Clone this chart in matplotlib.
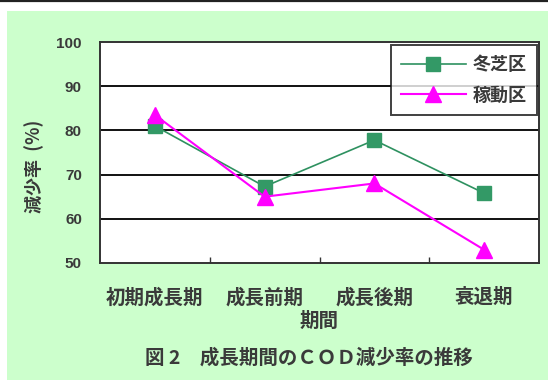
import matplotlib
matplotlib.use("Agg")
import matplotlib.pyplot as plt
from matplotlib.patches import Rectangle
from matplotlib.lines import Line2D

plt.rcParams['font.family'] = ['Noto Sans CJK JP', 'DejaVu Sans']

# Data
periods = ['初期成長期', '成長前期', '成長後期', '衰退期']
turf_area = [81.0, 67.3, 77.8, 65.8]      # 冬芝区
active_area = [83.5, 65.0, 68.0, 53.0]    # 稼動区
series_names = ['冬芝区', '稼動区']
y_ticks = [50, 60, 70, 80, 90, 100]

W, H = 548, 380
fig = plt.figure(figsize=(W / 100, H / 100), dpi=100)
fig.patch.set_facecolor('white')

# pale green panel and the thin rule along the top edge
fig.patches.append(Rectangle((7 / W, 0), 1 - 7 / W, 1 - 11 / H,
                             transform=fig.transFigure, facecolor='#ccffcc',
                             edgecolor='none', zorder=-10))
fig.lines.append(Line2D([0, 1], [1 - 1 / H, 1 - 1 / H], transform=fig.transFigure,
                        color='#222222', lw=1.6, zorder=-10))

ax = fig.add_axes([100 / W, 1 - 263 / H, 439 / W, 221 / H])
ax.set_zorder(1)
ax.set_facecolor('white')
x = list(range(len(periods)))

ax.plot(x, turf_area, color='#2e9160', lw=1.2, marker='s', markersize=10.5,
        markerfacecolor='#339966', markeredgecolor='#339966', label=series_names[0], zorder=3)
ax.plot(x, active_area, color='#ff00ff', lw=1.5, marker='^', markersize=12,
        markerfacecolor='#ff00ff', markeredgecolor='#ff00ff', label=series_names[1], zorder=4)

txt = '#3a3a3a'
ax.set_xlim(-0.5, len(periods) - 0.5)
ax.set_ylim(50, 100)
ax.set_yticks(y_ticks)
ax.set_yticklabels([str(v) for v in y_ticks], fontsize=11, color=txt,
                   family=['Liberation Sans', 'DejaVu Sans'], fontweight='bold')
ax.tick_params(axis='y', length=0, pad=13)
ax.set_xticks(x)
ax.set_xticklabels(periods, fontsize=14, color=txt, fontweight='bold')
ax.tick_params(axis='x', which='major', length=0, pad=18)
ax.set_xticks([0.5, 1.5, 2.5], minor=True)
ax.tick_params(axis='x', which='minor', direction='in', length=4, width=1, color='#333333')

for v in y_ticks[1:-1]:
    ax.axhline(v, color='#111111', lw=1.4, zorder=1)

for s in ax.spines.values():
    s.set_color('#333333')
    s.set_linewidth(1.4)

ax.set_xlabel('期間', fontsize=14, color=txt, labelpad=3, fontweight='bold')
fig.text(34 / W, 1 - 166 / H, '減少率  (%)', rotation=90, ha='center', va='center',
         fontsize=13, color=txt, fontweight='bold')

leg = ax.legend(loc='upper right', bbox_to_anchor=(0.995, 0.986), borderaxespad=0,
                prop={'size': 13, 'weight': 'bold'}, handlelength=3.6, frameon=True,
                fancybox=False, labelspacing=0.65, borderpad=0.55, handletextpad=0.4)
leg.get_frame().set_edgecolor('#111111')
leg.get_frame().set_linewidth(1.4)
for t in leg.get_texts():
    t.set_color(txt)

fig.text(309 / W, 1 - 358 / H, '図 2　成長期間のＣＯＤ減少率の推移', ha='center', va='center',
         fontsize=14, color=txt, fontweight='bold')

fig.savefig('out.png', dpi=100, facecolor=fig.get_facecolor())
